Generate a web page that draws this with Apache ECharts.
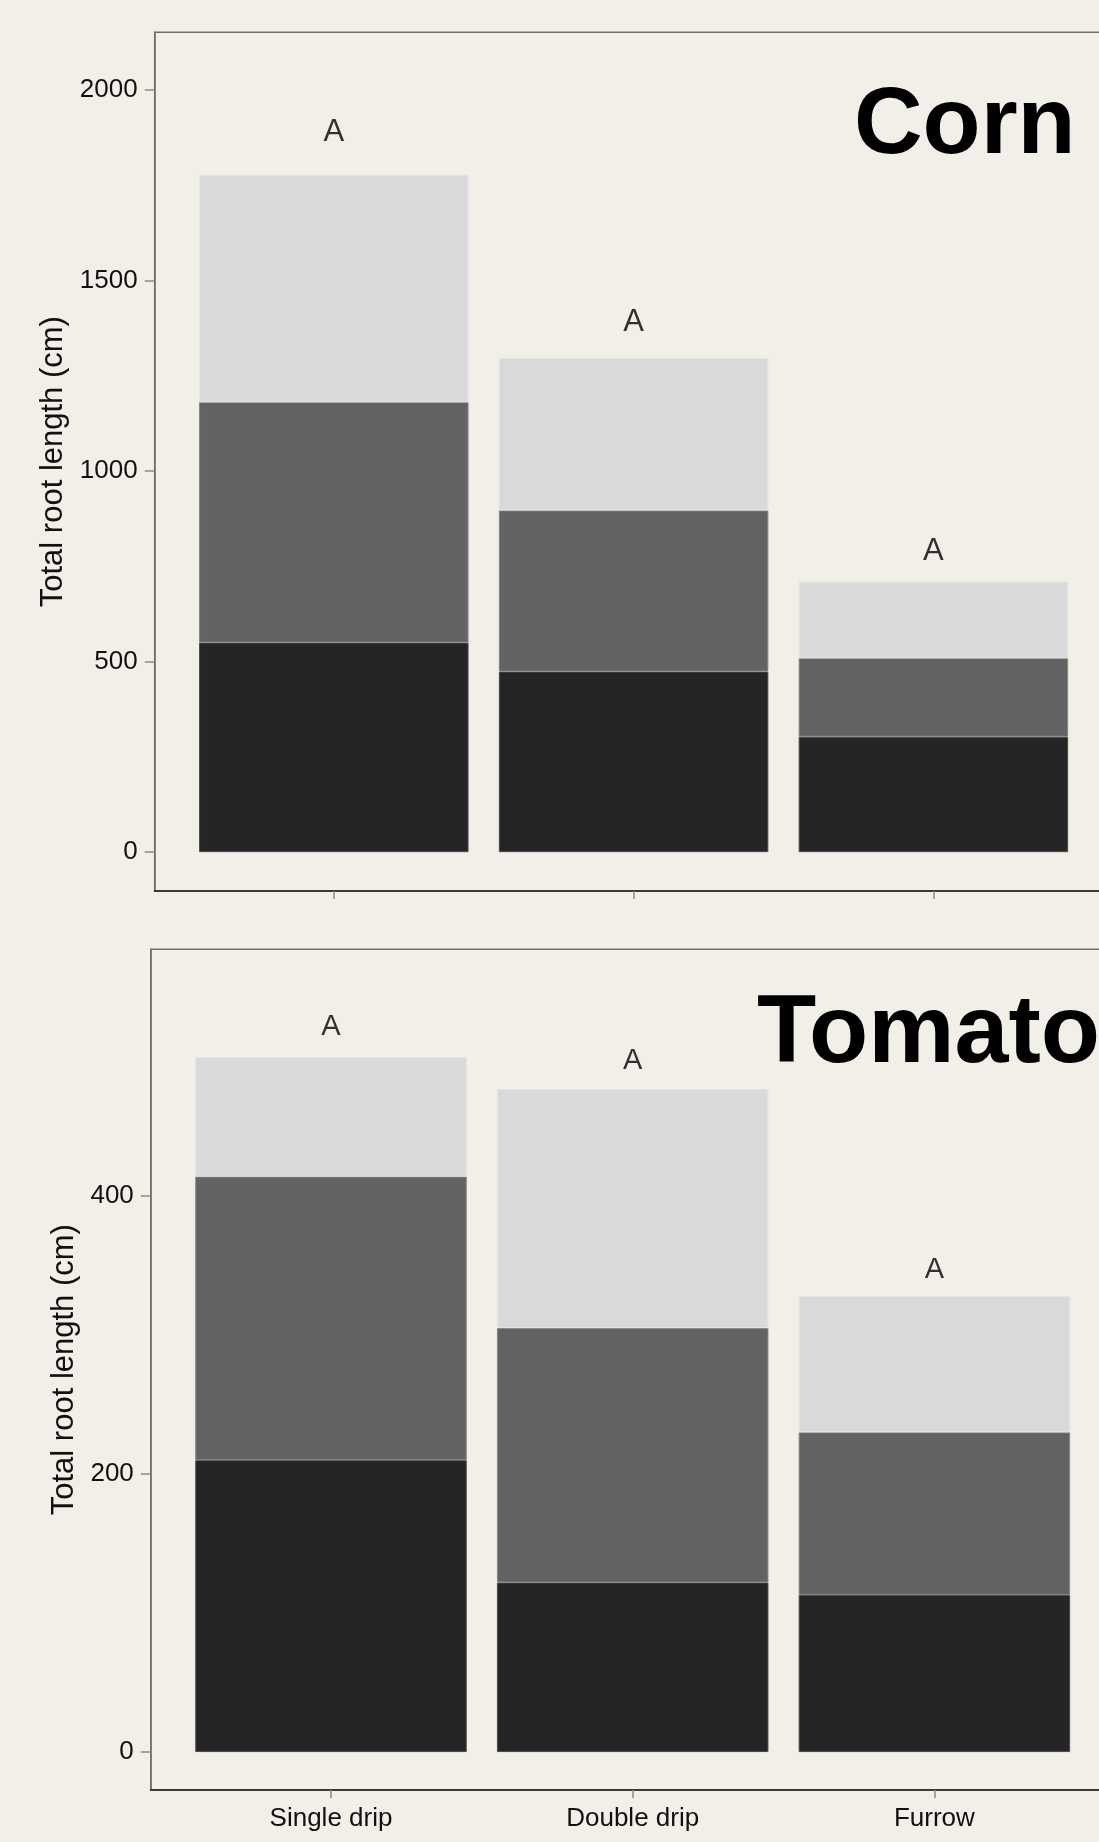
<!DOCTYPE html>
<html>
<head>
<meta charset="utf-8">
<title>Total root length by irrigation method</title>
<script src="https://cdn.jsdelivr.net/npm/echarts@6/dist/echarts.min.js"></script>
<style>
  html, body { margin: 0; padding: 0; background: #f1efe8; }
  #chart { width: 1099px; height: 1842px; }
</style>
</head>
<body>
<div id="chart"></div>
<script>
// Irrigation treatments (shared by both crops)
const categories = ['Single drip', 'Double drip', 'Furrow'];

// Corn: root length per layer (cm), stacked bottom to top
const cornLower = [550, 474, 303];
const cornMiddle = [631, 423, 206];
const cornUpper = [597, 400, 201];
const cornLetters = ['A', 'A', 'A'];
const cornLetterHeights = [1896, 1397, 797];
const cornTicks = [0, 500, 1000, 1500, 2000];

// Tomato: root length per layer (cm), stacked bottom to top
const tomatoLower = [210, 122, 113];
const tomatoMiddle = [204, 183, 117];
const tomatoUpper = [86, 172, 98];
const tomatoLetters = ['A', 'A', 'A'];
const tomatoLetterHeights = [524, 499, 349];
const tomatoTicks = [0, 200, 400];

const FONT = '"Liberation Sans", Arial, Helvetica, sans-serif';
const layerColors = ['#252525', '#636363', '#d9d9d9'];
const layerBorders = ['#4a4a4a', '#858585', '#e4e4e4'];

// Each panel: a frame grid (border + bottom axis line) and a bar grid inside it
const panels = [
  { frame: { left: 154.7, top: 32.3, width: 958, height: 858.7 }, barLeft: 183.9, barWidthPx: 899.4, bar: 269.5 },
  { frame: { left: 150.8, top: 949.3, width: 963.6, height: 840.7 }, barLeft: 180.15, barWidthPx: 905.1, bar: 271.5 }
];

const grids = [];
panels.forEach(p => {
  grids.push(Object.assign({ show: true, borderColor: '#707070', borderWidth: 1.5, backgroundColor: 'transparent', outerBoundsMode: 'none' }, p.frame));
  grids.push({ left: p.barLeft, top: p.frame.top, width: p.barWidthPx, height: p.frame.height, show: false, outerBoundsMode: 'none' });
});

function frameAxes(gridIndex) {
  return {
    x: {
      gridIndex: gridIndex, type: 'value', min: 0, max: 1,
      axisLine: { show: true, onZero: false, lineStyle: { color: '#3a3a3a', width: 2 } },
      axisTick: { show: false }, axisLabel: { show: false }, splitLine: { show: false }
    },
    y: { gridIndex: gridIndex, type: 'value', min: 0, max: 1, show: false }
  };
}

function barXAxis(gridIndex, showLabels) {
  return {
    gridIndex: gridIndex,
    type: 'category',
    data: categories,
    boundaryGap: true,
    axisLine: { show: false, onZero: false },
    axisTick: { show: true, alignWithLabel: true, length: 8, lineStyle: { color: '#8a8a8a', width: 1.5 } },
    axisLabel: { show: showLabels, fontFamily: FONT, fontSize: 26, color: '#111', margin: 16 },
    splitLine: { show: false }
  };
}

function barYAxis(gridIndex, min, max, ticks, offset, nameGap) {
  return {
    gridIndex: gridIndex,
    type: 'value',
    min: min,
    max: max,
    offset: offset,
    name: 'Total root length (cm)',
    nameLocation: 'middle',
    nameRotate: 90,
    nameGap: nameGap,
    nameTextStyle: { fontFamily: FONT, fontSize: 31, color: '#111' },
    axisLine: { show: true, onZero: false, lineStyle: { color: '#707070', width: 1.5 } },
    axisTick: { show: true, customValues: ticks, length: 10, lineStyle: { color: '#8a8a8a', width: 1.5 } },
    axisLabel: { customValues: ticks, formatter: v => String(v), fontFamily: FONT, fontSize: 26, color: '#111', margin: 17 },
    splitLine: { show: false }
  };
}

function barSeries(values, layer, axisIndex, stack, barWidth) {
  return {
    type: 'bar',
    name: stack + '-' + layer,
    xAxisIndex: axisIndex,
    yAxisIndex: axisIndex,
    stack: stack,
    barWidth: barWidth,
    data: values,
    itemStyle: { color: layerColors[layer], borderColor: layerBorders[layer], borderWidth: 1 },
    emphasis: { disabled: true },
    silent: true
  };
}

function letterSeries(letters, heights, axisIndex, size) {
  return {
    type: 'scatter',
    xAxisIndex: axisIndex,
    yAxisIndex: axisIndex,
    symbolSize: 1,
    itemStyle: { color: 'rgba(0,0,0,0)' },
    data: heights.map((h, i) => ({ value: [categories[i], h], name: letters[i] })),
    label: {
      show: true,
      position: 'inside',
      offset: [0, 3],
      formatter: p => p.name,
      fontFamily: FONT,
      fontSize: size,
      color: '#000'
    },
    silent: true,
    z: 5
  };
}

const f0 = frameAxes(0);
const f1 = frameAxes(2);

const chart = echarts.init(document.getElementById('chart'), null, { renderer: 'canvas' });

chart.setOption({
  backgroundColor: '#f1efe8',
  animation: false,
  grid: grids,
  xAxis: [f0.x, barXAxis(1, false), f1.x, barXAxis(3, true)],
  yAxis: [
    f0.y,
    barYAxis(1, -102, 2152, cornTicks, 29.2, 80),
    f1.y,
    barYAxis(3, -27.3, 577.5, tomatoTicks, 29.35, 61)
  ],
  graphic: [
    { type: 'text', left: 854, top: 79, style: { text: 'Corn', font: 'bold 95px ' + FONT, fill: '#000' }, z: 10 },
    { type: 'text', left: 757, top: 987, style: { text: 'Tomato', font: 'bold 97px ' + FONT, fill: '#000' }, z: 10 }
  ],
  series: [
    barSeries(cornLower, 0, 1, 'corn', panels[0].bar),
    barSeries(cornMiddle, 1, 1, 'corn', panels[0].bar),
    barSeries(cornUpper, 2, 1, 'corn', panels[0].bar),
    letterSeries(cornLetters, cornLetterHeights, 1, 31),
    barSeries(tomatoLower, 0, 3, 'tomato', panels[1].bar),
    barSeries(tomatoMiddle, 1, 3, 'tomato', panels[1].bar),
    barSeries(tomatoUpper, 2, 3, 'tomato', panels[1].bar),
    letterSeries(tomatoLetters, tomatoLetterHeights, 3, 29)
  ]
});
</script>
</body>
</html>
